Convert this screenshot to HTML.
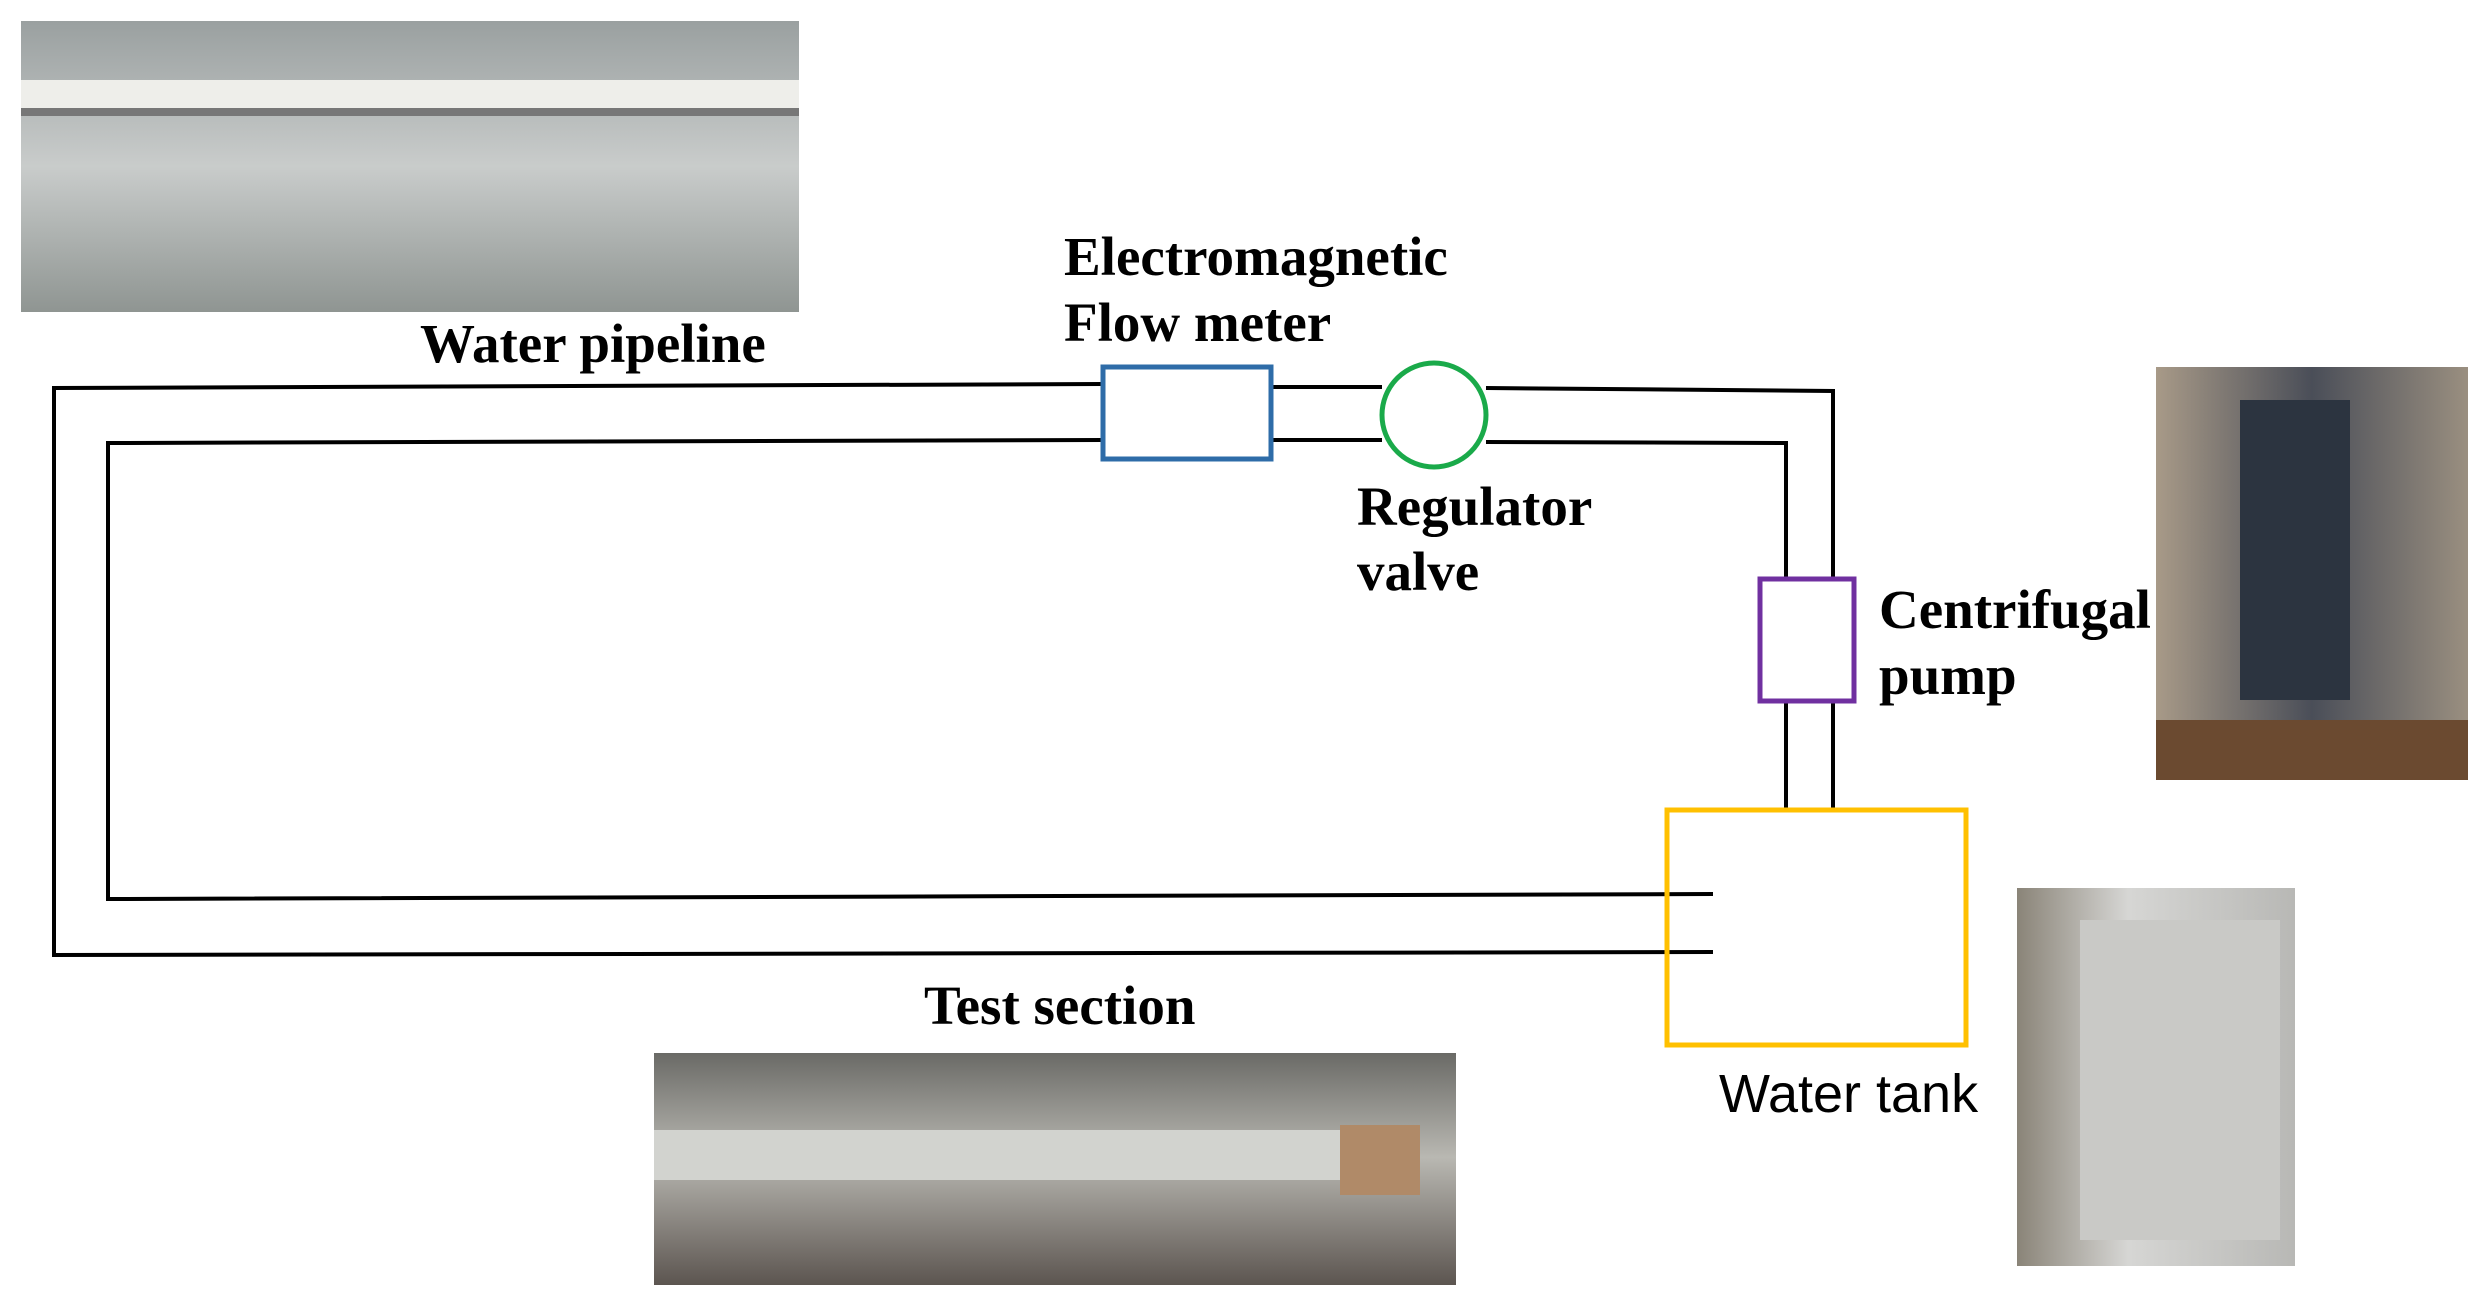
<!DOCTYPE html>
<html><head><meta charset="utf-8"><style>body{margin:0;background:#fff}svg{display:block}</style></head><body>
<svg width="2482" height="1307" viewBox="0 0 2482 1307" xmlns="http://www.w3.org/2000/svg">
<defs>
<linearGradient id="gp" x1="0" y1="0" x2="0" y2="1"><stop offset="0" stop-color="#9aa0a0"/><stop offset="0.5" stop-color="#c9cccb"/><stop offset="1" stop-color="#8f9592"/></linearGradient>
<linearGradient id="pp" x1="0" y1="0" x2="1" y2="0"><stop offset="0" stop-color="#a89a88"/><stop offset="0.5" stop-color="#4a4e58"/><stop offset="1" stop-color="#9a8f80"/></linearGradient>
<linearGradient id="tp" x1="0" y1="0" x2="1" y2="0"><stop offset="0" stop-color="#8a8478"/><stop offset="0.4" stop-color="#d6d6d4"/><stop offset="1" stop-color="#b8b8b5"/></linearGradient>
<linearGradient id="sp" x1="0" y1="0" x2="0" y2="1"><stop offset="0" stop-color="#6a6a66"/><stop offset="0.45" stop-color="#b9b8b2"/><stop offset="1" stop-color="#5c5550"/></linearGradient>
</defs>
<rect x="21" y="21" width="778" height="291" fill="url(#gp)"/>
<rect x="21" y="80" width="778" height="28" fill="#eeeeea"/>
<rect x="21" y="108" width="778" height="8" fill="#777"/>
<rect x="2156" y="367" width="312" height="413" fill="url(#pp)"/>
<rect x="2240" y="400" width="110" height="300" fill="#2c3440"/>
<rect x="2156" y="720" width="312" height="60" fill="#6b4a30"/>
<rect x="2017" y="888" width="278" height="378" fill="url(#tp)"/>
<rect x="2080" y="920" width="200" height="320" fill="#c9c9c6"/>
<rect x="654" y="1053" width="802" height="232" fill="url(#sp)"/>
<rect x="654" y="1130" width="720" height="50" fill="#d2d3cf"/>
<rect x="1340" y="1125" width="80" height="70" fill="#b08a68"/>
<g fill="none" stroke="#000" stroke-width="4">
<polyline points="1103,384 54,388 54,955 1713,952"/>
<polyline points="1103,440 108,443 108,899 1713,894"/>
<line x1="1271" y1="387" x2="1382" y2="387"/>
<line x1="1271" y1="440" x2="1382" y2="440"/>
<polyline points="1486,388 1833,391 1833,579"/>
<polyline points="1486,442 1786,443 1786,579"/>
<line x1="1786" y1="701" x2="1786" y2="810"/>
<line x1="1833" y1="701" x2="1833" y2="810"/>
</g>
<rect x="1103" y="367" width="168" height="92" fill="none" stroke="#2e6ca8" stroke-width="5"/>
<circle cx="1434" cy="415" r="52" fill="none" stroke="#1aaa4a" stroke-width="5"/>
<rect x="1760" y="579" width="94" height="122" fill="none" stroke="#7030a0" stroke-width="5"/>
<rect x="1667" y="810" width="299" height="235" fill="none" stroke="#ffc000" stroke-width="5"/>
<g font-family="Liberation Serif, serif" font-weight="bold" font-size="55" fill="#000">
<text x="420" y="362">Water pipeline</text>
<text x="1064" y="275">Electromagnetic</text>
<text x="1064" y="341">Flow meter</text>
<text x="1357" y="525">Regulator</text>
<text x="1357" y="590">valve</text>
<text x="1879" y="628">Centrifugal</text>
<text x="1879" y="694">pump</text>
<text x="924" y="1024">Test section</text>
</g>
<text x="1719" y="1112" font-family="Liberation Sans, sans-serif" font-size="54" fill="#000">Water tank</text>
</svg>
</body></html>
